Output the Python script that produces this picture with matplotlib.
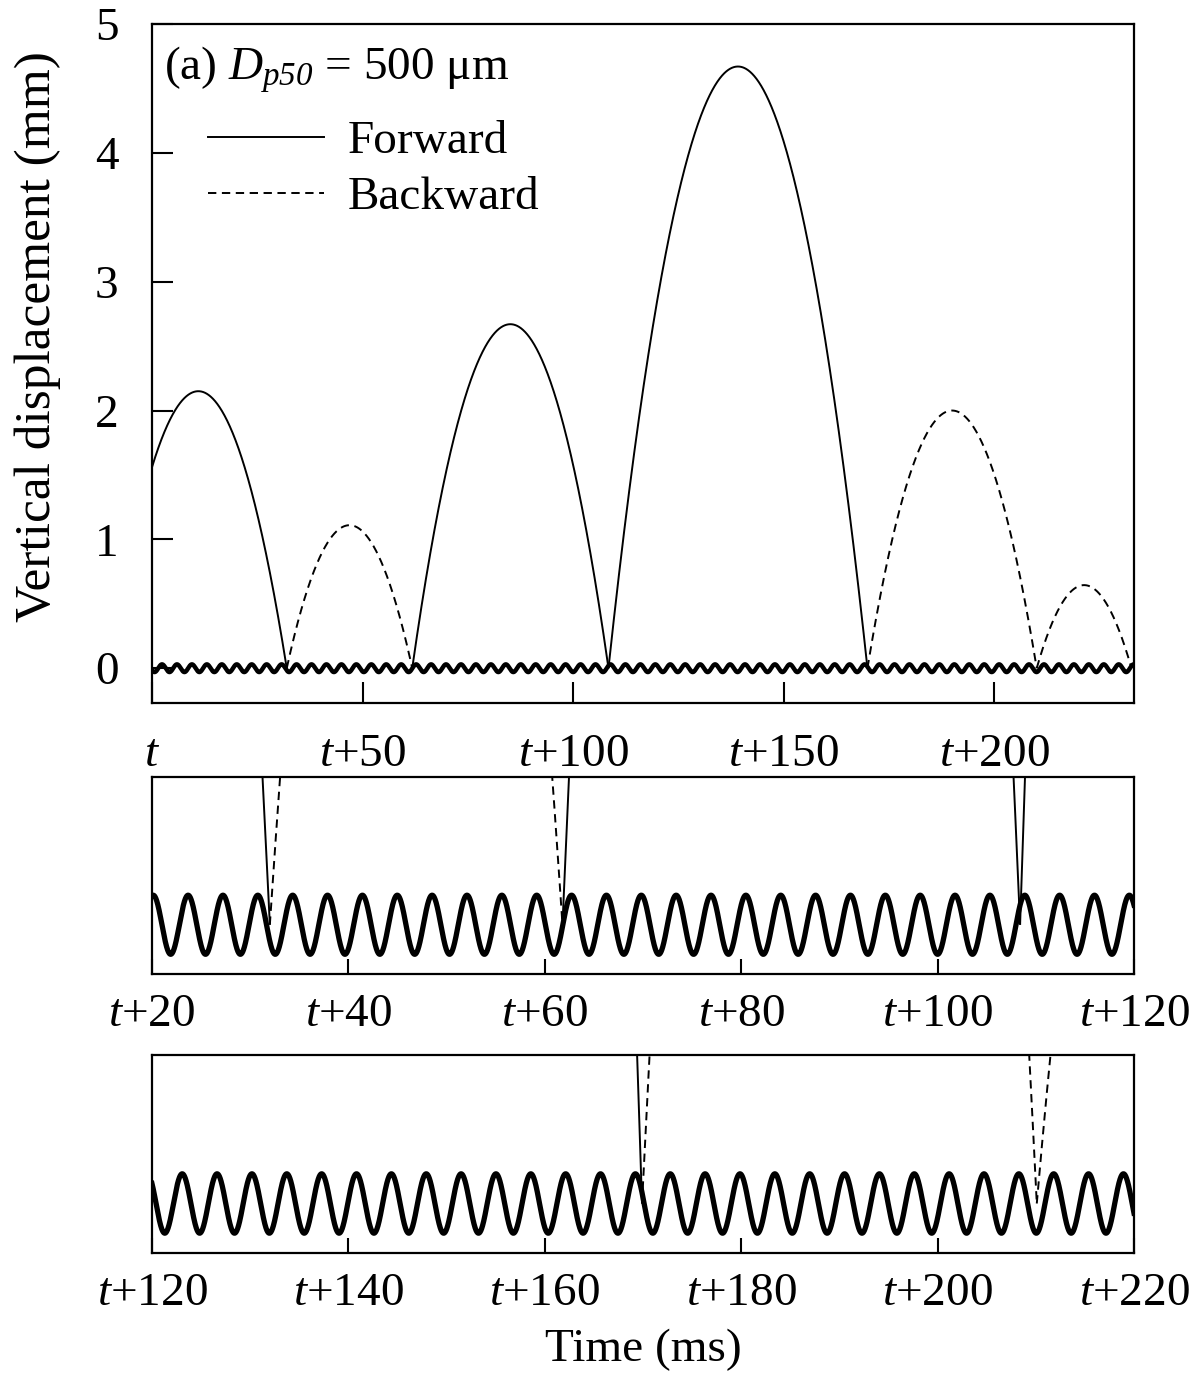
import numpy as np
import matplotlib
matplotlib.use("Agg")
import matplotlib.pyplot as plt
from matplotlib.lines import Line2D

plt.rcParams['font.family'] = ['Liberation Serif', 'DejaVu Serif']
plt.rcParams['mathtext.fontset'] = 'custom'
plt.rcParams['mathtext.rm'] = 'Liberation Serif'
plt.rcParams['mathtext.it'] = 'Liberation Serif:italic'
plt.rcParams['mathtext.sf'] = 'Liberation Serif:italic'
plt.rcParams['lines.scale_dashes'] = False

# ---- data ----
launch_ms = [-10.0, 32.0, 61.8, 108.4, 169.9, 210.1]
land_ms = [32.0, 61.8, 108.4, 169.9, 210.1, 232.6]
peak_mm = [2.15, 1.11, 2.67, 4.67, 2.00, 0.645]
direction = ['Forward', 'Backward', 'Forward', 'Forward', 'Backward', 'Backward']

vib_amp_mm = 0.03
vib_period_ms = 3.55
vib_trough_ms = 21.9

top_xticks = [0, 50, 100, 150, 200]
mid_xticks = [20, 40, 60, 80, 100, 120]
bot_xticks = [120, 140, 160, 180, 200, 220]
top_yticks = [0, 1, 2, 3, 4, 5]

t_end = 233.2
FS = 34

def tlabel(v):
    return r"$t$" if v == 0 else r"$t$+%d" % v

fig = plt.figure(figsize=(12, 13.87), dpi=100)
W, H = 1200, 1387
def pos(l, r, t, b):
    return [l / W, 1 - b / H, (r - l) / W, (b - t) / H]

ax1 = fig.add_axes(pos(152, 1134, 24, 703))
ax2 = fig.add_axes(pos(152, 1134, 777, 974))
ax3 = fig.add_axes(pos(152, 1134, 1055, 1253))

tw = np.linspace(0, t_end, 30000)
yw = -vib_amp_mm * np.cos(2 * np.pi * (tw - vib_trough_ms) / vib_period_ms)

DASH = (0, (6, 4))

def draw(ax, wave_lw):
    for t0, t1, h, d in zip(launch_ms, land_ms, peak_mm, direction):
        tm = 0.5 * (t0 + t1)
        half = 0.5 * (t1 - t0)
        tt = np.linspace(max(t0, 0), min(t1, t_end), 1500)
        yy = h * (1 - ((tt - tm) / half) ** 2)
        if d == 'Forward':
            ax.plot(tt, yy, color='black', lw=1.4, solid_capstyle='butt')
        else:
            ax.plot(tt, yy, color='black', lw=1.4, linestyle=DASH)
    ax.plot(tw, yw, color='black', lw=wave_lw, solid_joinstyle='round')
    for s in ax.spines.values():
        s.set_linewidth(1.6)

draw(ax1, 3.2)
draw(ax2, 3.8)
draw(ax3, 3.8)

# top panel
ax1.set_xlim(0, t_end)
ax1.set_ylim(-0.27, 5.0)
ax1.set_xticks(top_xticks)
ax1.set_xticklabels([tlabel(v) for v in top_xticks])
ax1.set_yticks(top_yticks)
ax1.set_yticklabels([str(v) for v in top_yticks])
ax1.tick_params(direction='in', length=15, width=1.5, labelsize=FS)
ax1.tick_params(axis='x', pad=22)
ax1.tick_params(axis='y', pad=24)
ax1.set_ylabel("Vertical displacement (mm)", fontsize=37)
ax1.yaxis.set_label_coords(-0.093, 0.54)

ax1.text(0.012, 0.97, r"(a) $D_{\mathsf{p50}}$ = 500 μm", transform=ax1.transAxes,
         fontsize=FS, ha='left', va='top')
handles = [Line2D([], [], color='black', lw=1.4),
           Line2D([], [], color='black', lw=1.4, linestyle=DASH)]
ax1.legend(handles, ['Forward', 'Backward'], loc='upper left',
           bbox_to_anchor=(0.057, 0.858), frameon=False, fontsize=FS,
           handlelength=2.45, handletextpad=0.5, labelspacing=0.27,
           borderaxespad=0, borderpad=0)

# lower panels
for ax, ticks in ((ax2, mid_xticks), (ax3, bot_xticks)):
    ax.set_xlim(ticks[0], ticks[-1])
    ax.set_ylim(-0.05, 0.15)
    ax.set_xticks(ticks)
    ax.set_xticklabels([tlabel(v) for v in ticks])
    ax.set_yticks([])
    ax.tick_params(direction='in', length=11, width=1.5, labelsize=FS, pad=14)

fig.text(643 / W, 1 - 1350 / H, "Time (ms)", fontsize=FS, ha='center', va='center')

fig.savefig("out.png", dpi=100)
